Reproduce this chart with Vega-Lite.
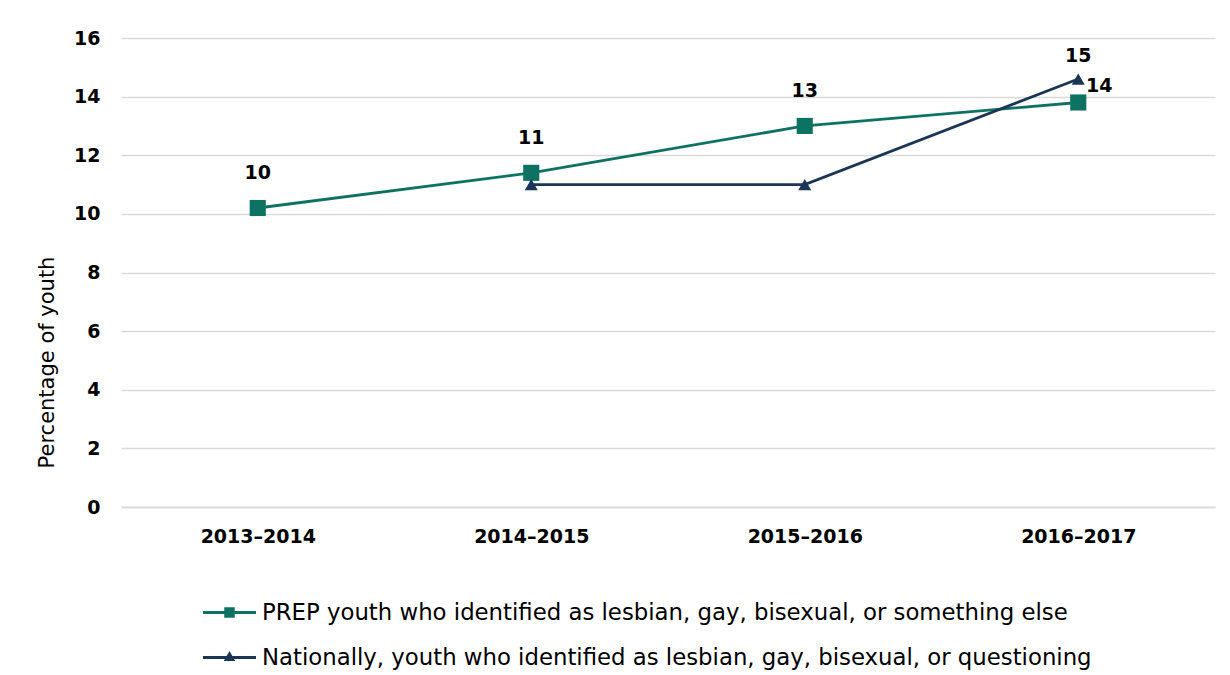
{
  "$schema": "https://vega.github.io/schema/vega-lite/v6.json",
  "autosize": "none",
  "width": 1094,
  "height": 469,
  "padding": {"left": 121, "top": 38, "right": 15, "bottom": 168},
  "background": "white",
  "config": {
    "font": "DejaVu Sans, sans-serif",
    "view": {"stroke": null}
  },
  "data": {
    "values": [
      {"series": "PREP youth who identified as lesbian, gay, bisexual, or something else", "period": "2013–2014", "value": 10.2, "label": "10"},
      {"series": "PREP youth who identified as lesbian, gay, bisexual, or something else", "period": "2014–2015", "value": 11.4, "label": "11"},
      {"series": "PREP youth who identified as lesbian, gay, bisexual, or something else", "period": "2015–2016", "value": 13.0, "label": "13"},
      {"series": "PREP youth who identified as lesbian, gay, bisexual, or something else", "period": "2016–2017", "value": 13.8, "label": "14"},
      {"series": "Nationally, youth who identified as lesbian, gay, bisexual, or questioning", "period": "2014–2015", "value": 11.0, "label": ""},
      {"series": "Nationally, youth who identified as lesbian, gay, bisexual, or questioning", "period": "2015–2016", "value": 11.0, "label": ""},
      {"series": "Nationally, youth who identified as lesbian, gay, bisexual, or questioning", "period": "2016–2017", "value": 14.6, "label": "15"}
    ]
  },
  "encoding": {
    "x": {
      "field": "period", "type": "nominal", "sort": null,
      "scale": {"paddingInner": 0, "paddingOuter": 0},
      "axis": {
        "title": null, "labelAngle": 0, "ticks": false, "domain": true, "domainColor": "#d9d9d9", "domainWidth": 1.5,
        "labelFont": "DejaVu Sans, sans-serif", "labelFontSize": 19, "labelFontWeight": "bold", "labelColor": "#000000", "labelPadding": 20
      }
    },
    "y": {
      "field": "value", "type": "quantitative",
      "scale": {"domain": [0, 16], "nice": false},
      "axis": {
        "title": "Percentage of youth", "titleFont": "DejaVu Sans, sans-serif", "titleFontSize": 21, "titleFontWeight": "normal", "titleColor": "#000000", "titlePadding": 16, "titleY": 324,
        "values": [0, 2, 4, 6, 8, 10, 12, 14, 16],
        "ticks": false, "domain": false, "gridColor": "#d9d9d9", "gridWidth": 1.5,
        "labelFont": "DejaVu Sans, sans-serif", "labelFontSize": 19, "labelFontWeight": "bold", "labelColor": "#000000", "labelPadding": 21
      }
    }
  },
  "layer": [
    {
      "mark": {"type": "line", "strokeWidth": 2.8},
      "encoding": {
        "color": {
          "field": "series", "type": "nominal",
          "scale": {
            "domain": ["PREP youth who identified as lesbian, gay, bisexual, or something else", "Nationally, youth who identified as lesbian, gay, bisexual, or questioning"],
            "range": ["#0E7263", "#1B3557"]
          },
          "legend": {
            "title": null, "orient": "none", "legendX": 96, "legendY": 562, "direction": "vertical",
            "labelFont": "DejaVu Sans, sans-serif", "labelFontSize": 22.8, "labelColor": "#000000", "labelLimit": 1000,
            "symbolSize": 625, "symbolStrokeWidth": 0, "rowPadding": 20, "labelOffset": 20,
            "encode": {
              "symbols": {
                "update": {
                  "shape": {"signal": "datum.value === 'Nationally, youth who identified as lesbian, gay, bisexual, or questioning' ? 'M-2.12,-0.12H2.12V0.12H-2.12ZM-0.46,0.28L0,-0.52L0.46,0.28Z' : 'M-2.12,-0.12H2.12V0.12H-2.12ZM-0.42,-0.42H0.42V0.42H-0.42Z'"},
                  "fill": {"signal": "datum.value === 'Nationally, youth who identified as lesbian, gay, bisexual, or questioning' ? '#1B3557' : '#0E7263'"},
                  "fillOpacity": {"value": 1},
                  "strokeWidth": {"value": 0}
                }
              }
            }
          }
        }
      }
    },
    {
      "transform": [{"filter": "datum.series === 'PREP youth who identified as lesbian, gay, bisexual, or something else'"}],
      "mark": {"type": "point", "shape": "square", "size": 260, "filled": true, "opacity": 1, "color": "#0E7263"},
      "encoding": {}
    },
    {
      "transform": [{"filter": "datum.series === 'Nationally, youth who identified as lesbian, gay, bisexual, or questioning'"}],
      "mark": {"type": "point", "shape": "triangle-up", "size": 170, "filled": true, "opacity": 1, "color": "#1B3557"},
      "encoding": {}
    },
    {
      "transform": [{"filter": "datum.series === 'PREP youth who identified as lesbian, gay, bisexual, or something else' && datum.period !== '2016–2017'"}],
      "mark": {"type": "text", "dy": -35, "fontSize": 19, "fontWeight": "bold", "color": "#000000"},
      "encoding": {"text": {"field": "label"}}
    },
    {
      "transform": [{"filter": "datum.series === 'PREP youth who identified as lesbian, gay, bisexual, or something else' && datum.period === '2016–2017'"}],
      "mark": {"type": "text", "dy": -16, "dx": 21, "fontSize": 19, "fontWeight": "bold", "color": "#000000"},
      "encoding": {"text": {"field": "label"}}
    },
    {
      "transform": [{"filter": "datum.label === '15'"}],
      "mark": {"type": "text", "dy": -23, "fontSize": 19, "fontWeight": "bold", "color": "#000000"},
      "encoding": {"text": {"field": "label"}}
    }
  ]
}
